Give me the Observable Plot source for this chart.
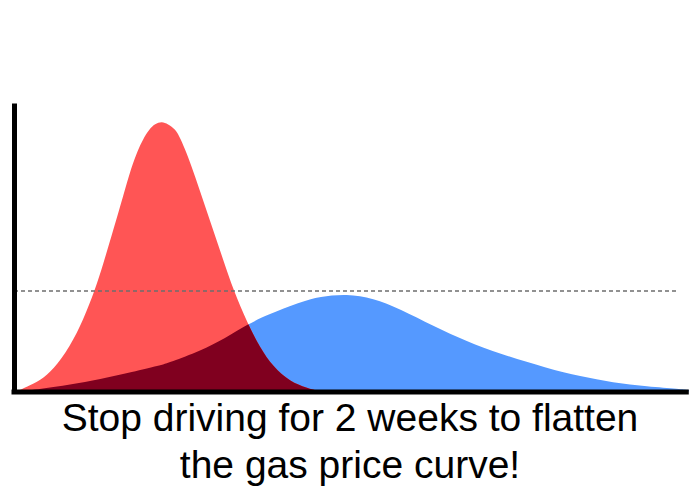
<!DOCTYPE html>
<html>
<head>
<meta charset="utf-8">
<script src="https://cdn.jsdelivr.net/npm/d3@7"></script>
<script src="https://cdn.jsdelivr.net/npm/@observablehq/plot@0.6"></script>
<style>
  html, body { margin: 0; padding: 0; background: #fff; }
  #chart { width: 700px; }
  .caption {
    width: 700px;
    font-family: "Liberation Sans", Arial, Helvetica, sans-serif;
    font-size: 39px;
    line-height: 46.6px;
    text-align: center;
    color: #000;
  }
</style>
</head>
<body>
<div id="chart"></div>
<script>
// Prices while everyone keeps driving: a sharp, tall spike
const spikeDay = [0.4, 1.9, 3.9, 5.8, 8.3, 10.3, 12.0, 13.2, 14.7, 16.2, 17.4, 18.3, 19.1, 20.0, 20.9, 21.9,
  22.8, 23.9, 24.7, 25.5, 26.5, 28.0, 29.5, 31.0, 32.5, 34.6, 36.4, 38.4, 40.9, 43.4, 45.3];
const spikePrice = [0, 1.7, 3.8, 7.5, 15.5, 25.0, 35.2, 44.0, 56.0, 68.0, 77.8, 83.4, 87.4, 90.8, 92.8, 93.6,
  92.7, 91.0, 87.5, 83.0, 76.8, 66.4, 56.0, 45.6, 35.2, 23.6, 15.4, 8.5, 3.4, 1.2, 0];

// Prices after two weeks off the road: a long, low hump
const flatDay = [0.4, 3.9, 8.3, 12.7, 17.6, 21.6, 23.1, 27.6, 31.3, 34.7, 37.5, 42.4, 45.3, 49.3, 53.2, 57.2,
  62.1, 67.1, 72.0, 79.0, 83.9, 88.7, 93.8, 98.7, 100];
const flatPrice = [0, 0.9, 2.3, 4.2, 6.8, 9.0, 10.1, 14.0, 18.5, 23.4, 26.5, 31.0, 32.9, 33.8, 32.4, 28.6,
  22.7, 17.3, 13.0, 8.1, 5.2, 3.1, 1.7, 0.9, 0.5];

// Capacity line the curve should stay under
const capacity = [35];

const captionLines = ["Stop driving for 2 weeks to flatten", "the gas price curve!"];

const spike = spikeDay.map((d, i) => ({day: d, price: spikePrice[i]}));
const flat = flatDay.map((d, i) => ({day: d, price: flatPrice[i]}));

const RED = "#ff5555", BLUE = "#5599ff", OVERLAP = "#80001f";

const chart = Plot.plot({
  width: 700,
  height: 395,
  marginLeft: 14,
  marginRight: 11,
  marginTop: 103,
  marginBottom: 3.5,
  x: {domain: [0, 100], axis: null},
  y: {domain: [0, 100], axis: null},
  style: {background: "#fff", overflow: "visible"},
  marks: [
    Plot.areaY(flat, {x: "day", y: "price", fill: BLUE, curve: "basis"}),
    Plot.areaY(spike, {x: "day", y: "price", fill: RED, curve: "basis"}),
    Plot.ruleY(capacity, {x1: 0, x2: 98.2, stroke: "#6e6e6e", strokeWidth: 1.4, strokeDasharray: "4,3"}),
    Plot.ruleX([0], {y1: 0, y2: 99, stroke: "#000", strokeWidth: 5, strokeLinecap: "square"}),
    Plot.ruleY([0], {x1: 0, x2: 99.6, stroke: "#000", strokeWidth: 5, strokeLinecap: "square"})
  ]
});

// Shade where the two curves overlap: the blue area clipped to the red one
(function shadeOverlap(svg) {
  const areas = svg.querySelectorAll('g[aria-label="area"]');
  if (areas.length < 2) return;
  const bluePath = areas[0].querySelector("path");
  const redGroup = areas[1];
  const redPath = redGroup.querySelector("path");
  const ns = "http://www.w3.org/2000/svg";
  const defs = document.createElementNS(ns, "defs");
  const clip = document.createElementNS(ns, "clipPath");
  clip.setAttribute("id", "spike-clip");
  const clipShape = document.createElementNS(ns, "path");
  clipShape.setAttribute("d", redPath.getAttribute("d"));
  const redTransform = redGroup.getAttribute("transform");
  if (redTransform) clipShape.setAttribute("transform", redTransform);
  clip.appendChild(clipShape);
  defs.appendChild(clip);
  svg.insertBefore(defs, svg.firstChild);
  const g = document.createElementNS(ns, "g");
  g.setAttribute("aria-label", "overlap");
  g.setAttribute("clip-path", "url(#spike-clip)");
  const p = document.createElementNS(ns, "path");
  p.setAttribute("d", bluePath.getAttribute("d"));
  const blueTransform = areas[0].getAttribute("transform");
  if (blueTransform) p.setAttribute("transform", blueTransform);
  p.setAttribute("fill", OVERLAP);
  g.appendChild(p);
  redGroup.parentNode.insertBefore(g, redGroup.nextSibling);
})(chart);

document.getElementById("chart").appendChild(chart);

const caption = document.createElement("div");
caption.className = "caption";
captionLines.forEach(line => {
  const row = document.createElement("div");
  row.textContent = line;
  caption.appendChild(row);
});
document.body.appendChild(caption);
</script>
</body>
</html>
